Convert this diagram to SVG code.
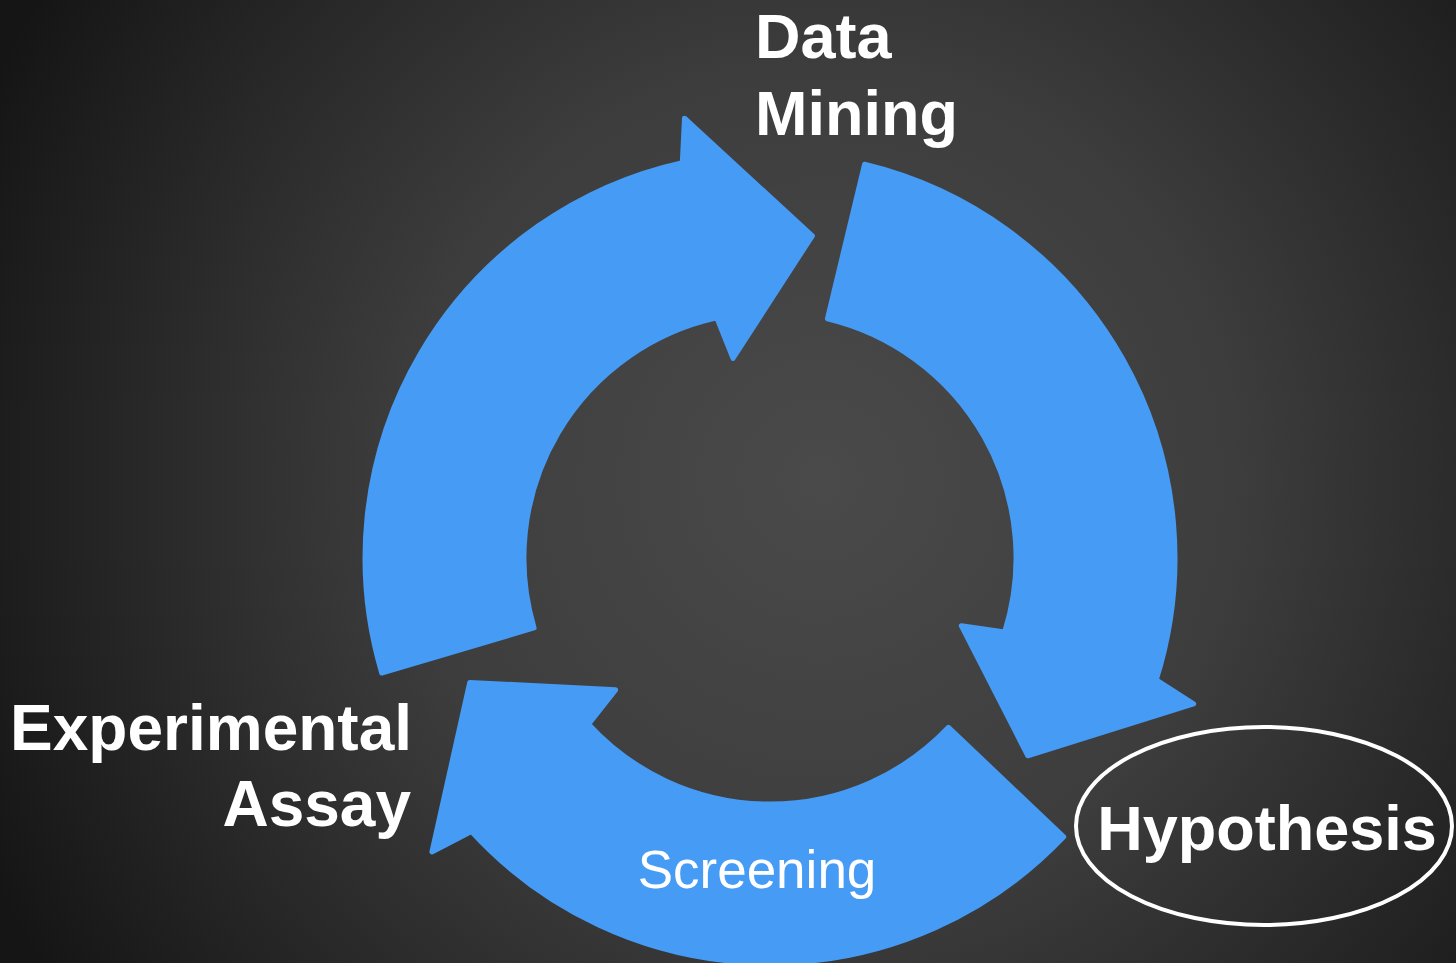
<svg xmlns="http://www.w3.org/2000/svg" width="1456" height="963" viewBox="0 0 1456 963">
<defs>
<radialGradient id="bg" cx="820" cy="480" r="920" gradientUnits="userSpaceOnUse">
<stop offset="0" stop-color="#4a4a4a"/>
<stop offset="0.45" stop-color="#3d3d3d"/>
<stop offset="1" stop-color="#151515"/>
</radialGradient>
<path id="arrow" d="M381.7,673.0 A405,405 0 0 1 682.3,162.6 L684.5,118.2 L812.4,235.8 L733.0,358.4 L716.8,317.8 A246,246 0 0 0 534.1,627.9 Z"/>
</defs>
<style>
.arr{fill:#469bf5;stroke:#469bf5;stroke-width:5;stroke-linejoin:round}
.lbl{font-family:"Liberation Sans",Arial,sans-serif;font-weight:bold;fill:#ffffff}
</style>
<rect width="1456" height="963" fill="url(#bg)"/>
<g id="connectors">
<g id="arrow-mining"><use href="#arrow" class="arr"/></g>
<g id="arrow-hypothesis"><use href="#arrow" class="arr" transform="rotate(120 770 558)"/></g>
<g id="arrow-assay"><use href="#arrow" class="arr" transform="rotate(240 770 558)"/></g>
</g>
<g id="node-data-mining">
<text class="lbl" x="755" y="58" font-size="63">Data</text>
<text class="lbl" x="755" y="135" font-size="63">Mining</text>
</g>
<g id="node-experimental-assay">
<text class="lbl" x="412" y="750" font-size="64" text-anchor="end">Experimental</text>
<text class="lbl" x="411" y="826" font-size="64" text-anchor="end">Assay</text>
</g>
<g id="node-hypothesis">
<ellipse cx="1264" cy="826" rx="188" ry="99" fill="none" stroke="#ffffff" stroke-width="4"/>
<text class="lbl" x="1267" y="850" font-size="63" text-anchor="middle">Hypothesis</text>
</g>
<g id="node-screening">
<text x="757" y="888" font-size="53" text-anchor="middle" font-family="Liberation Sans, Arial, sans-serif" fill="#ffffff">Screening</text>
</g>
</svg>
